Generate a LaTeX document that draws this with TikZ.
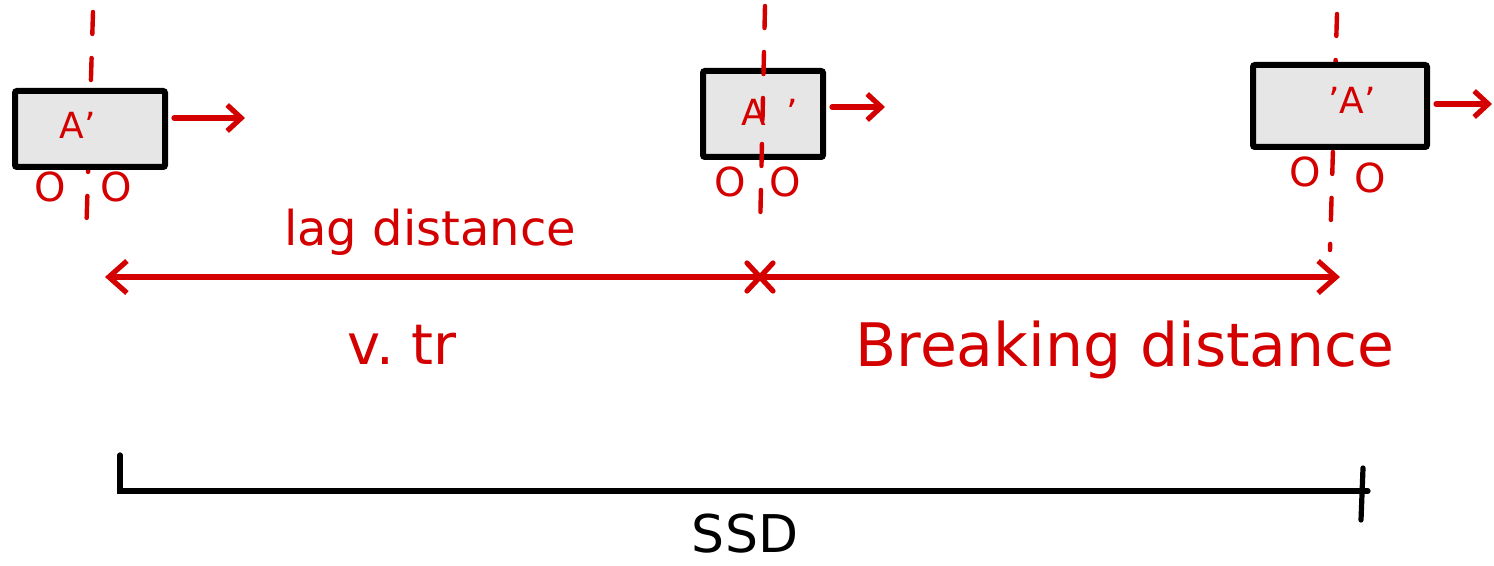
\documentclass[tikz,border=0pt]{standalone}
\usepackage{fontspec}
\setmainfont{DejaVu Sans}
\usetikzlibrary{arrows.meta}
\definecolor{ink}{RGB}{212,0,0}
\definecolor{boxfill}{RGB}{230,230,230}

\begin{document}
\begin{tikzpicture}[x=0.5pt,y=-0.5pt,
  car/.style={draw=black,line width=3pt,fill=boxfill,rounded corners=1pt,inner sep=0pt},
  motion/.style={draw=ink,line width=2.6pt,line cap=round,shorten <=3pt,
    -{Straight Barb[length=7pt,width=13pt,line width=2.6pt]}},
  axisline/.style={draw=ink,dash pattern=on 11pt off 12pt,line width=2.2pt,line cap=round},
  digit/.style={text=ink,font=\fontsize{20}{22}\selectfont,inner sep=0pt},
  carlabel/.style={text=ink,font=\fontsize{18}{20}\selectfont,inner sep=0pt},
  note/.style={text=ink,inner sep=0pt},
  dim/.style={draw=ink,line width=2.6pt,line cap=round},
  dimarrow/.style={dim,-{Straight Barb[length=9pt,width=16pt,line width=2.6pt]}},
  ssdline/.style={draw=black,line width=2.6pt,line cap=round},
]
\useasboundingbox (0,0) rectangle (1494,566);

% centre lines through the first and last positions (behind the cars)
\coordinate (c1top) at (93,12);  \coordinate (c1bot) at (86,240);
\coordinate (c3top) at (1337,14); \coordinate (c3bot) at (1330,250);
\draw[axisline] (c1top) -- (c1bot);
\draw[axisline] (c3top) -- (c3bot);

% the car at its three positions
\node[car,minimum width=75pt,minimum height=38pt] (car1) at (90,129) {};
\node[car,minimum width=60pt,minimum height=43pt] (car2) at (763,114) {};
\node[car,minimum width=87pt,minimum height=41pt] (car3) at (1340,106) {};

% centre line of the middle position, drawn over the car
\coordinate (c2top) at (765,6); \coordinate (c2bot) at (760,232);
\draw[axisline] (c2top) -- (c2bot);

% car labels
\node[carlabel] (a1) at (78,125) {A'};
\node[carlabel] (a2) at (770,112) {A\;\;'};
\node[carlabel] (a3) at (1352,100) {'A'};

% wheels under each car
\node[digit] (w1l) at (50,187) {O};   \node[digit] (w1r) at (116,187) {O};
\node[digit] (w2l) at (730,182) {O};  \node[digit] (w2r) at (785,182) {O};
\node[digit] (w3l) at (1305,172) {O}; \node[digit] (w3r) at (1370,178) {O};

% direction of motion
\coordinate (h1) at (245,118);
\coordinate (h2) at (885,107);
\coordinate (h3) at (1492,104);
\draw[motion] (car1.east |- h1) -- (h1);
\draw[motion] (car2.east |- h2) -- (h2);
\draw[motion] (car3.east |- h3) -- (h3);

% lag distance and braking distance
\coordinate (L) at (105,277);
\coordinate (M) at (760,277);
\coordinate (R) at (1340,277);
\draw[dimarrow] (M) -- (L);
\draw[dimarrow] (M) -- (R);
\draw[dim] ([shift={(-13,-14)}]M) -- ([shift={(13,14)}]M);
\draw[dim] ([shift={(13,-14)}]M) -- ([shift={(-13,14)}]M);

\node[note,font=\fontsize{24}{26}\selectfont] (lag) at (430,232) {lag distance};
\node[note,font=\fontsize{28}{30}\selectfont] (vtr) at (402,345) {v.\ tr};
\node[note,font=\fontsize{30}{32}\selectfont] (brk) at (1125,350) {Breaking distance};

% stopping sight distance
\coordinate (s0) at (120,455);
\coordinate (s1) at (120,491);
\coordinate (s2) at (1368,491);
\coordinate (t0) at (1363,468);
\coordinate (t1) at (1361,520);
\draw[ssdline] (s0) -- (s1) -- (s2);
\draw[ssdline] (t0) -- (t1);
\node[inner sep=0pt,font=\fontsize{26}{28}\selectfont] (ssd) at (745,534) {SSD};
\end{tikzpicture}
\end{document}
